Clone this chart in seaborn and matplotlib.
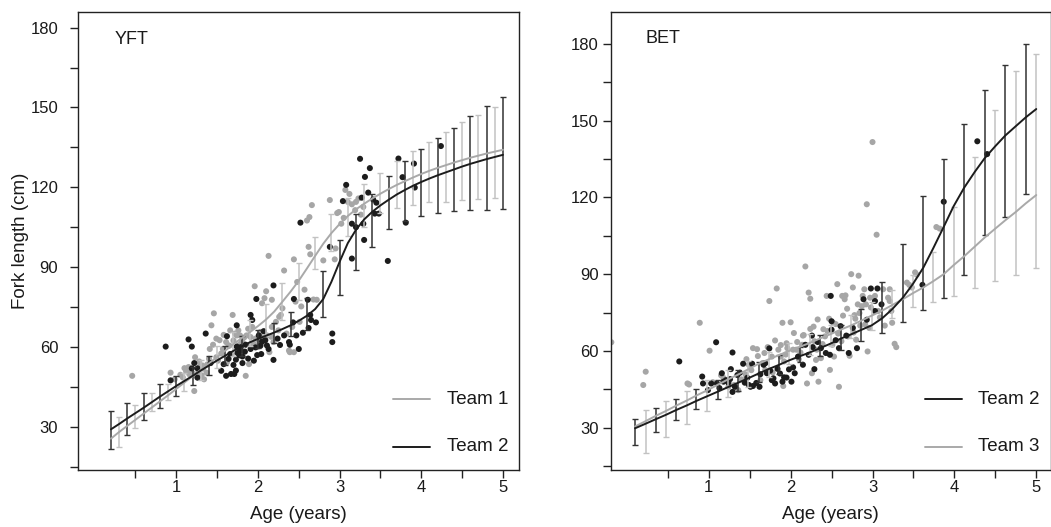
import matplotlib
matplotlib.use("Agg")
import matplotlib.pyplot as plt
import seaborn as sns
import numpy as np

# ---------------- DATA ----------------
# YFT panel: fitted curves on a 0.1-year grid
yft_age = [0.2, 0.3, 0.4, 0.5, 0.6, 0.7, 0.8, 0.9, 1.0, 1.1, 1.2, 1.3, 1.4, 1.5, 1.6, 1.7,
           1.8, 1.9, 2.0, 2.1, 2.2, 2.3, 2.4, 2.5, 2.6, 2.7, 2.8, 2.9, 3.0, 3.1, 3.2, 3.3,
           3.4, 3.5, 3.6, 3.7, 3.8, 3.9, 4.0, 4.1, 4.2, 4.3, 4.4, 4.5, 4.6, 4.7, 4.8, 4.9, 5.0]
yft_team1_fit = [25.5, 28.0, 30.3, 32.6, 34.9, 37.2, 39.5, 41.8, 44.2, 46.6, 49.0, 51.4, 53.8,
                 56.2, 58.6, 61.0, 63.3, 65.5, 67.8, 70.3, 73.3, 77.0, 80.8, 84.9, 89.5, 94.2,
                 98.8, 102.8, 106.2, 109.2, 111.7, 113.8, 115.8, 117.6, 119.3, 120.9, 122.3,
                 123.7, 125.0, 126.2, 127.3, 128.3, 129.3, 130.2, 131.1, 131.9, 132.7, 133.4, 134.1]
yft_team2_fit = [29.0, 31.0, 33.1, 35.1, 37.1, 39.2, 41.3, 43.3, 45.3, 47.2, 49.1, 51.1, 53.0,
                 54.9, 56.7, 58.5, 60.2, 61.7, 63.0, 64.2, 65.4, 66.7, 68.1, 69.8, 71.7, 74.2,
                 78.0, 84.5, 92.0, 99.0, 104.0, 107.9, 110.8, 113.2, 115.3, 117.3, 119.0,
                 120.6, 122.0, 123.3, 124.5, 125.6, 126.7, 127.8, 128.8, 129.7, 130.6, 131.4, 132.2]

# YFT error bars
yft_team1_bar_age = [0.3, 0.5, 0.7, 0.9, 1.1, 1.3, 1.5, 1.7, 1.9, 2.1, 2.3, 2.5, 2.7, 2.9,
                     3.1, 3.3, 3.5, 3.7, 3.9, 4.1, 4.3, 4.5, 4.7, 4.9]
yft_team1_lo = [22.4, 29.4, 35.7, 40.2, 43.5, 47.5, 52.0, 56.5, 60.5, 64.0, 70.0, 77.7, 89.1,
                96.0, 101.5, 105.2, 110.3, 112.1, 113.4, 114.3, 114.3, 115.3, 115.5, 115.9]
yft_team1_hi = [33.8, 38.3, 42.7, 46.0, 50.0, 55.0, 60.5, 65.5, 70.0, 76.0, 84.0, 91.6, 101.2,
                110.0, 115.9, 121.2, 125.5, 129.9, 133.7, 137.2, 140.6, 144.5, 147.2, 150.1]
yft_team2_bar_age = [0.2, 0.4, 0.6, 0.8, 1.0, 1.2, 1.4, 1.6, 1.8, 2.0, 2.2, 2.4, 2.6, 2.8,
                     3.0, 3.2, 3.4, 3.6, 3.8, 4.0, 4.2, 4.4, 4.6, 4.8, 5.0]
yft_team2_lo = [21.7, 27.0, 32.5, 37.0, 41.7, 45.5, 49.5, 53.0, 56.5, 59.5, 61.5, 64.0, 66.5,
                71.3, 79.6, 88.9, 97.7, 104.4, 107.5, 109.2, 110.5, 110.9, 111.3, 111.5, 111.8]
yft_team2_hi = [35.7, 38.9, 42.5, 46.0, 49.0, 52.5, 56.5, 60.5, 64.0, 66.5, 69.0, 73.0, 78.5,
                88.5, 100.0, 110.0, 117.4, 124.4, 129.7, 134.3, 138.5, 142.2, 146.9, 150.6, 154.1]

# YFT observations
yft_team1_pt_age = [0.46, 0.93, 0.98, 1.10, 1.13, 1.16, 1.22, 1.23, 1.29, 1.31, 1.34, 1.37, 1.41,
                    1.43, 1.46, 1.49, 1.49, 1.51, 1.57, 1.61, 1.62, 1.66, 1.69, 1.70, 1.72, 1.74,
                    1.76, 1.78, 1.81, 1.85, 1.86, 1.89, 1.91, 1.93, 1.96, 1.97, 1.99, 2.01, 2.03,
                    2.05, 2.08, 2.10, 2.11, 2.13, 2.14, 2.17, 2.17, 2.19, 2.22, 2.26, 2.28, 2.32,
                    2.35, 2.38, 2.39, 2.44, 2.44, 2.46, 2.48, 2.51, 2.57, 2.60, 2.62, 2.63, 2.64,
                    2.66, 2.72, 2.80, 2.88, 2.94, 2.95, 2.97, 2.99, 3.02, 3.07, 3.10, 3.15, 3.19,
                    3.20, 3.26, 3.29, 1.05, 1.18, 1.27, 1.32, 1.55, 1.65, 1.80, 1.95, 2.06, 1.20,
                    1.40, 1.75, 2.00, 1.08, 1.12, 1.15, 1.19, 1.25, 1.28, 1.33, 1.38, 1.45, 1.53,
                    1.58, 1.64, 1.68, 1.77, 1.83, 1.88, 1.92, 2.02, 2.07, 2.16, 2.25, 2.30, 2.42,
                    2.53, 2.68, 3.05, 3.12, 3.23]
yft_team1_pt_len = [49.1, 50.3, 47.8, 52.0, 51.2, 49.7, 43.4, 56.1, 52.9, 49.3, 47.8, 50.3, 59.2,
                    68.1, 72.6, 63.1, 56.1, 54.8, 59.2, 61.8, 54.2, 66.2, 72.0, 62.4, 65.0, 64.3,
                    66.2, 64.3, 61.8, 49.1, 64.3, 53.5, 63.7, 67.5, 82.8, 63.1, 60.5, 62.4, 65.6,
                    76.4, 78.3, 80.9, 64.3, 94.2, 58.0, 67.5, 77.7, 61.8, 69.4, 71.3, 72.0, 88.7,
                    65.0, 58.6, 58.0, 92.9, 58.0, 77.0, 84.4, 69.4, 81.5, 107.5, 97.6, 108.8, 94.8,
                    113.3, 77.7, 92.5, 115.2, 92.9, 97.0, 110.3, 110.7, 106.3, 119.0, 114.5, 113.6,
                    111.4, 114.5, 109.7, 112.6, 49.5, 51.0, 50.5, 53.0, 57.5, 60.5, 62.0, 61.0,
                    63.5, 50.0, 55.5, 58.5, 60.0, 48.5, 50.8, 52.4, 50.3, 48.9, 54.5, 51.8, 53.4,
                    60.8, 62.5, 64.5, 60.4, 57.2, 60.7, 63.5, 66.8, 61.2, 64.9, 61.7, 63.8, 66.2,
                    74.5, 67.5, 75.2, 77.8, 108.5, 117.5, 115.8]
yft_team2_pt_age = [0.87, 0.93, 1.15, 1.19, 1.22, 1.19, 1.26, 1.26, 1.36, 1.42, 1.55, 1.61, 1.62,
                    1.66, 1.67, 1.71, 1.73, 1.74, 1.74, 1.73, 1.75, 1.78, 1.79, 1.81, 1.81, 1.85,
                    1.91, 1.93, 1.91, 1.95, 1.98, 1.99, 2.01, 2.04, 2.05, 2.07, 2.11, 2.13, 2.19,
                    2.19, 2.24, 2.32, 2.38, 2.39, 2.43, 2.44, 2.47, 2.50, 2.52, 2.61, 2.62, 2.64,
                    2.65, 2.71, 2.88, 2.91, 2.91, 3.04, 3.08, 3.15, 3.15, 3.20, 3.25, 3.27, 3.29,
                    3.30, 3.31, 3.35, 3.37, 3.41, 3.43, 3.45, 3.48, 3.59, 3.72, 3.77, 3.81, 3.91,
                    3.92, 4.24, 1.58, 1.64, 1.70, 1.77, 1.84, 1.88, 1.97, 2.03, 2.09, 2.27, 2.55]
yft_team2_pt_len = [60.1, 47.4, 62.8, 60.1, 53.9, 51.9, 51.9, 48.4, 65.0, 53.9, 51.0, 49.1, 64.0,
                    57.3, 49.8, 49.8, 51.1, 68.1, 60.1, 55.2, 57.7, 58.6, 59.9, 56.4, 53.9, 60.8,
                    72.0, 70.1, 59.2, 54.8, 78.0, 56.9, 64.3, 57.3, 62.0, 65.9, 60.5, 59.2, 83.1,
                    55.1, 63.1, 64.3, 61.8, 60.8, 69.2, 78.0, 64.3, 59.2, 106.7, 77.7, 67.1, 72.0,
                    70.1, 69.2, 97.6, 65.0, 61.8, 114.8, 120.9, 106.3, 93.2, 105.0, 130.7, 116.1,
                    106.3, 100.2, 123.9, 118.0, 127.2, 115.4, 110.1, 114.2, 110.1, 92.3, 130.8,
                    123.8, 106.7, 128.9, 119.9, 135.5, 53.5, 55.5, 53.2, 56.8, 58.2, 55.6, 59.8,
                    60.4, 62.5, 60.7, 65.3]

# BET panel: fitted curves
bet_age = [0.10, 0.23, 0.35, 0.48, 0.60, 0.73, 0.85, 0.98, 1.11, 1.23, 1.36, 1.48, 1.61, 1.73,
           1.86, 1.98, 2.11, 2.24, 2.36, 2.49, 2.61, 2.74, 2.86, 2.99, 3.12, 3.24, 3.37, 3.49,
           3.62, 3.74, 3.87, 3.99, 4.12, 4.25, 4.37, 4.50, 4.62, 4.75, 4.87, 5.00]
bet_team2_fit = [29.8, 31.6, 33.3, 35.1, 36.9, 38.7, 40.5, 42.3, 44.1, 45.8, 47.6, 49.3, 51.2,
                 52.9, 54.6, 56.3, 57.9, 59.5, 61.1, 62.9, 64.8, 66.5, 68.2, 70.0, 72.8, 76.3,
                 80.8, 86.0, 92.5, 100.0, 108.5, 116.5, 123.8, 130.0, 135.3, 140.0, 144.1,
                 147.8, 151.2, 154.5]
bet_team3_fit = [30.5, 32.6, 34.6, 36.6, 38.6, 40.6, 42.6, 44.6, 46.8, 48.8, 50.8, 52.8, 55.0,
                 56.7, 58.4, 60.0, 61.6, 63.2, 64.9, 66.6, 68.3, 70.0, 71.8, 73.8, 75.8, 77.9,
                 80.2, 82.5, 84.8, 87.2, 90.0, 93.5, 97.0, 100.8, 104.3, 107.8, 111.0, 114.3,
                 117.6, 120.9]

# BET error bars
bet_team2_bar_age = [0.10, 0.35, 0.60, 0.85, 1.11, 1.36, 1.61, 1.86, 2.11, 2.36, 2.61, 2.86,
                     3.12, 3.37, 3.62, 3.87, 4.12, 4.37, 4.62, 4.87]
bet_team2_lo = [23.4, 28.5, 33.0, 37.5, 41.2, 44.5, 48.0, 51.0, 55.5, 58.2, 60.5, 63.8, 67.0,
                71.5, 76.0, 80.5, 89.5, 105.2, 112.2, 121.3]
bet_team2_hi = [33.5, 37.7, 41.4, 45.0, 48.6, 52.5, 55.6, 58.5, 61.5, 66.4, 70.3, 76.2, 87.0,
                101.7, 120.5, 135.0, 148.8, 161.9, 171.6, 180.0]
bet_team3_bar_age = [0.23, 0.48, 0.73, 0.98, 1.23, 1.48, 1.73, 1.98, 2.24, 2.49, 2.74, 2.99,
                     3.24, 3.49, 3.74, 3.99, 4.25, 4.50, 4.75, 5.00]
bet_team3_lo = [20.0, 26.3, 31.6, 36.6, 42.0, 46.0, 50.0, 55.0, 58.5, 62.0, 65.0, 68.0, 73.0,
                77.0, 79.0, 81.5, 84.4, 87.4, 89.8, 92.4]
bet_team3_hi = [36.8, 40.5, 44.4, 48.6, 52.6, 56.0, 59.5, 63.0, 66.5, 70.0, 74.0, 79.0, 84.0,
                89.5, 98.8, 116.3, 135.6, 154.1, 169.5, 176.0]

# BET observations
bet_team2_pt_age = [0.64, 0.92, 0.93, 0.99, 1.03, 1.09, 1.10, 1.16, 1.18, 1.21, 1.24, 1.27, 1.29,
                    1.29, 1.32, 1.35, 1.38, 1.42, 1.44, 1.49, 1.51, 1.53, 1.54, 1.62, 1.63, 1.67,
                    1.69, 1.71, 1.74, 1.77, 1.79, 1.81, 1.84, 1.90, 1.92, 1.95, 1.98, 2.01, 2.05,
                    2.09, 2.15, 2.18, 2.26, 2.27, 2.29, 2.37, 2.43, 2.48, 2.49, 2.50, 2.50, 2.59,
                    2.61, 2.71, 2.76, 2.81, 2.89, 2.98, 3.03, 3.03, 3.06, 3.11, 3.61, 3.87, 4.28,
                    4.40, 1.13, 1.26, 1.47, 1.58, 1.75, 1.87, 2.03, 2.22, 2.33, 2.55, 2.68, 2.93]
bet_team2_pt_len = [55.9, 50.0, 47.3, 44.7, 47.3, 63.4, 47.3, 51.3, 48.0, 48.6, 47.6, 52.9, 59.4,
                    44.0, 46.0, 50.6, 51.5, 55.0, 47.6, 46.7, 46.0, 55.0, 46.3, 46.0, 50.9, 54.6,
                    55.2, 51.3, 61.0, 48.6, 49.3, 47.3, 53.0, 48.0, 49.7, 49.6, 52.8, 48.0, 51.3,
                    57.8, 54.6, 62.4, 66.0, 61.5, 52.9, 61.1, 59.2, 58.5, 81.5, 71.6, 68.3, 61.1,
                    69.7, 59.2, 69.0, 61.1, 80.2, 84.4, 75.6, 79.5, 84.4, 78.2, 85.8, 118.3, 141.9,
                    136.9, 45.5, 49.0, 49.5, 47.5, 52.3, 51.2, 53.6, 58.5, 63.5, 64.2, 66.0, 72.2]
bet_team3_pt_age = [-0.19, 0.20, 0.23, 0.74, 0.76, 0.89, 1.01, 1.24, 1.31, 1.36, 1.40, 1.46, 1.49,
                    1.54, 1.59, 1.63, 1.68, 1.69, 1.74, 1.77, 1.81, 1.83, 1.85, 1.88, 1.90, 1.91,
                    1.92, 1.96, 2.00, 2.03, 2.04, 2.07, 2.10, 2.12, 2.14, 2.18, 2.20, 2.22, 2.24,
                    2.24, 2.26, 2.29, 2.32, 2.33, 2.34, 2.37, 2.42, 2.44, 2.47, 2.48, 2.51, 2.53,
                    2.57, 2.59, 2.62, 2.63, 2.66, 2.67, 2.70, 2.72, 2.74, 2.76, 2.79, 2.80, 2.82,
                    2.83, 2.85, 2.88, 2.90, 2.92, 2.93, 2.94, 2.96, 3.00, 3.03, 3.05, 3.07, 3.13,
                    3.15, 3.19, 3.21, 3.21, 3.23, 3.24, 3.27, 3.29, 3.42, 3.45, 3.48, 3.52, 3.54,
                    3.78, 3.82, 1.15, 1.60, 1.72, 1.95, 2.15, 2.40, 2.55, 2.78, 2.98, 1.05, 1.18,
                    1.45, 1.52, 1.66, 1.78, 1.88, 1.94, 2.08, 2.16, 2.28, 2.31, 2.39, 2.45, 2.52,
                    2.58, 2.64, 2.69, 2.77, 2.84, 2.87, 2.91, 2.97, 3.09]
bet_team3_pt_len = [63.4, 46.7, 51.9, 47.3, 46.9, 71.0, 60.1, 46.0, 46.7, 44.7, 48.9, 56.8, 54.6,
                    61.1, 60.7, 48.6, 59.2, 52.6, 79.5, 57.8, 64.1, 84.4, 60.5, 57.8, 71.0, 46.3,
                    55.9, 61.1, 71.2, 60.5, 67.0, 60.5, 56.8, 59.4, 62.4, 93.0, 47.3, 82.8, 80.4,
                    68.6, 51.3, 63.8, 60.5, 72.3, 48.0, 57.2, 65.7, 81.5, 72.6, 52.6, 62.4, 57.8,
                    86.1, 46.0, 63.8, 81.5, 80.2, 81.7, 65.7, 58.1, 90.0, 84.8, 72.6, 64.4, 78.2,
                    89.4, 69.9, 81.5, 84.1, 78.2, 117.3, 59.8, 69.0, 141.6, 81.5, 105.4, 75.6,
                    84.1, 69.9, 80.8, 84.1, 79.5, 75.6, 71.0, 62.8, 61.5, 86.7, 85.8, 84.8, 90.7,
                    89.8, 108.4, 107.8, 50.5, 58.0, 61.5, 63.0, 66.0, 68.5, 70.5, 74.0, 77.0,
                    47.8, 49.5, 50.8, 52.5, 55.3, 51.6, 62.3, 58.6, 63.5, 66.2, 69.5, 56.5, 62.7,
                    67.8, 71.0, 66.8, 73.8, 76.5, 67.2, 74.8, 77.5, 70.4, 80.8, 73.1]

panel_labels = ["YFT", "BET"]
legend_yft = ["Team 1", "Team 2"]
legend_bet = ["Team 2", "Team 3"]
x_major = [1, 2, 3, 4, 5]
x_minor = [0.5, 1.5, 2.5, 3.5, 4.5]
y_major = [30, 60, 90, 120, 150, 180]
y_minor = [15, 45, 75, 105, 135, 165]

# ---------------- STYLE ----------------
sns.set_theme(style="ticks")
plt.rcParams["font.family"] = ["Liberation Sans", "DejaVu Sans"]

DARK = "#1c1c1c"
DARK_BAR = "#333333"
LIGHT = "#a9a9a9"
LIGHT_BAR = "#c2c2c2"
LIGHT_PT = "#a6a6a6"

W, H = 1051, 527
fig = plt.figure(figsize=(W / 100, H / 100), dpi=100)
ax1 = fig.add_axes([78.3 / W, 57 / H, 441 / W, 458 / H])
ax2 = fig.add_axes([610.5 / W, 57 / H, 440.5 / W, 458 / H])


def bars(ax, ages, lo, hi, color, z):
    lo = np.asarray(lo)
    hi = np.asarray(hi)
    mid = (lo + hi) / 2
    ax.errorbar(ages, mid, yerr=(hi - lo) / 2, fmt="none", ecolor=color,
                elinewidth=1.1, capsize=2.2, capthick=1.0, zorder=z)


def dots(ax, x, y, color, z):
    sns.scatterplot(x=x, y=y, color=color, s=19, edgecolor="none", linewidth=0,
                    ax=ax, zorder=z, legend=False)


def curve(ax, x, y, color, z):
    sns.lineplot(x=x, y=y, color=color, linewidth=1.4, ax=ax, zorder=z,
                 sort=False, legend=False)


# YFT panel
dots(ax1, yft_team1_pt_age, yft_team1_pt_len, LIGHT_PT, 2)
dots(ax1, yft_team2_pt_age, yft_team2_pt_len, DARK, 3)
bars(ax1, yft_team1_bar_age, yft_team1_lo, yft_team1_hi, LIGHT_BAR, 4)
bars(ax1, yft_team2_bar_age, yft_team2_lo, yft_team2_hi, DARK_BAR, 4)
curve(ax1, yft_age, yft_team1_fit, LIGHT, 5)
curve(ax1, yft_age, yft_team2_fit, DARK, 6)

# BET panel
dots(ax2, bet_team3_pt_age, bet_team3_pt_len, LIGHT_PT, 2)
dots(ax2, bet_team2_pt_age, bet_team2_pt_len, DARK, 3)
bars(ax2, bet_team3_bar_age, bet_team3_lo, bet_team3_hi, LIGHT_BAR, 4)
bars(ax2, bet_team2_bar_age, bet_team2_lo, bet_team2_hi, DARK_BAR, 4)
curve(ax2, bet_age, bet_team3_fit, LIGHT, 5)
curve(ax2, bet_age, bet_team2_fit, DARK, 6)

ax1.set_xlim(-0.2, 5.2)
ax1.set_ylim(13.7, 185.9)
ax2.set_xlim(-0.2, 5.18)
ax2.set_ylim(13.5, 192.4)

for ax, ypad in ((ax1, 9), (ax2, 3)):
    ax.set_xticks(x_major)
    ax.set_xticks(x_minor, minor=True)
    ax.set_yticks(y_major)
    ax.set_yticks(y_minor, minor=True)
    ax.tick_params(which="both", direction="out", length=5.5, width=1.0, color="#222222",
                   labelsize=12, labelcolor="#1a1a1a")
    ax.tick_params(axis="x", which="both", pad=1.5)
    ax.tick_params(axis="y", which="both", pad=ypad)
    for sp in ax.spines.values():
        sp.set_visible(True)
        sp.set_linewidth(1.0)
        sp.set_color("#222222")
    ax.set_xlabel("Age (years)", fontsize=13.5, color="#1a1a1a")
    ax.xaxis.set_label_coords(0.5, -0.098)
    ax.xaxis.label.set_va("center")
    ax.set_ylabel("")

ax1.set_ylabel("Fork length (cm)", fontsize=13.5, color="#1a1a1a")
ax1.yaxis.set_label_coords(-0.132, 0.5)
ax1.yaxis.label.set_va("center")

# panel labels
ax1.text(0.083, 0.958, panel_labels[0], transform=ax1.transAxes, fontsize=13,
         ha="left", va="top", color="#1a1a1a")
ax2.text(0.080, 0.960, panel_labels[1], transform=ax2.transAxes, fontsize=13,
         ha="left", va="top", color="#1a1a1a")


# legends (line samples + labels)
def legend_entries(ax, labels, colors):
    ys = [0.154, 0.051]
    for lab, col, yy in zip(labels, colors, ys):
        ax.plot([0.714, 0.797], [yy, yy], transform=ax.transAxes, color=col, lw=1.4,
                clip_on=False, zorder=7)
        ax.text(0.835, yy, lab, transform=ax.transAxes, fontsize=13.5, ha="left",
                va="center", color="#1a1a1a")


legend_entries(ax1, legend_yft, [LIGHT, DARK])
legend_entries(ax2, legend_bet, [DARK, LIGHT])

fig.savefig("out.png", dpi=100)
